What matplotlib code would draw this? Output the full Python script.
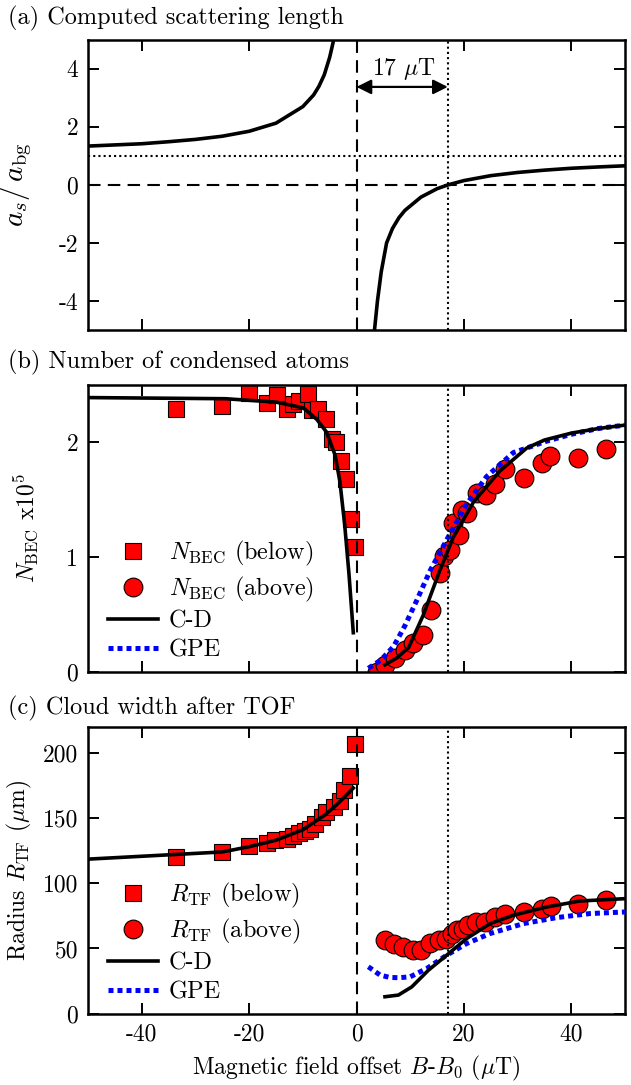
import matplotlib
matplotlib.use("Agg")
import matplotlib.pyplot as plt

plt.rcParams['font.family'] = ['cmr10']
plt.rcParams['mathtext.fontset'] = 'cm'
plt.rcParams['axes.unicode_minus'] = False
plt.rcParams['axes.formatter.use_mathtext'] = False

# ---------------- data ----------------
# (a) scattering length a_s/a_bg
a_below_B = [-50, -45, -40, -35, -30, -25, -20, -15, -10, -8, -7, -6, -5, -4.25]
a_below_v = [1.34, 1.38, 1.42, 1.49, 1.57, 1.68, 1.85, 2.13, 2.70, 3.10, 3.40, 3.80, 4.40, 5.00]
a_above_B = [3.35, 3.9, 4.6, 5.6, 6.7, 7.9, 9.0, 10.5, 12, 15, 17, 20, 25, 30, 35, 40, 45, 50]
a_above_v = [-5.0, -4.0, -3.0, -2.0, -1.5, -1.13, -0.88, -0.65, -0.42, -0.13, 0.0, 0.15, 0.32, 0.43, 0.51, 0.575, 0.62, 0.66]

# (b) number of condensed atoms (x1e5)
nb_below_B = [-33.6, -25.1, -20.0, -16.7, -14.9, -13.0, -11.8, -10.8, -9.0, -8.3, -7.1, -5.6, -4.6, -3.8, -2.8, -2.0, -1.0, -0.3]
nb_below_N = [2.29, 2.32, 2.43, 2.34, 2.41, 2.29, 2.33, 2.36, 2.42, 2.28, 2.29, 2.20, 2.03, 2.00, 1.84, 1.68, 1.33, 1.09]
nb_above_B = [3.75, 5.3, 7.2, 9.0, 10.6, 12.3, 13.8, 15.5, 16.3, 17.4, 18.0, 19.1, 19.6, 20.5, 22.4, 24.2, 25.8, 27.7, 31.1, 34.5, 36.0, 41.3, 46.4]
nb_above_N = [0.00, 0.06, 0.12, 0.19, 0.25, 0.32, 0.54, 0.86, 1.01, 1.06, 1.30, 1.19, 1.41, 1.38, 1.56, 1.54, 1.64, 1.77, 1.69, 1.82, 1.88, 1.86, 1.94]
cd_b_below_B = [-50, -24.4, -14.9, -9.9, -7.4, -5.6, -4.0, -3.1, -2.2, -1.4, -0.6]
cd_b_below_N = [2.39, 2.38, 2.35, 2.30, 2.20, 2.09, 1.89, 1.66, 1.28, 0.85, 0.34]
cd_b_above_B = [5.3, 7.5, 9.7, 12.4, 15.5, 18.0, 21.8, 26.7, 31.7, 35, 40, 45, 50]
cd_b_above_N = [0.06, 0.12, 0.21, 0.49, 0.88, 1.17, 1.48, 1.75, 1.95, 2.02, 2.08, 2.12, 2.15]
gpe_b_B = [2.2, 4.5, 6.9, 9.0, 11.2, 13.7, 16.8, 20.5, 24.2, 29.2, 35.4, 40, 45, 50]
gpe_b_N = [0.03, 0.10, 0.22, 0.40, 0.62, 0.88, 1.15, 1.46, 1.70, 1.91, 2.01, 2.07, 2.12, 2.15]

# (c) cloud width R_TF (um)
rc_below_B = [-33.6, -25.1, -20.0, -16.7, -15.2, -13.0, -11.8, -10.7, -9.6, -8.7, -7.7, -6.5, -5.6, -4.1, -3.1, -2.3, -1.3, -0.3]
rc_below_R = [120.0, 123.9, 128.5, 130.7, 132.8, 134.1, 136.6, 138.4, 140.4, 141.7, 145.6, 150.6, 154.4, 158.3, 163.4, 171.6, 182.3, 206.7]
rc_above_B = [5.3, 7.0, 8.7, 10.5, 12.1, 13.7, 15.4, 16.7, 17.7, 18.7, 19.9, 20.8, 22.3, 23.9, 25.8, 27.7, 31.1, 34.5, 36.2, 41.3, 46.4]
rc_above_R = [56.3, 53.8, 51.2, 48.7, 48.7, 54.3, 56.3, 57.6, 61.4, 64.0, 65.3, 67.8, 70.3, 70.3, 74.2, 76.8, 78.0, 80.6, 82.3, 83.9, 86.9]
cd_c_below_B = [-50, -25, -20, -15, -10, -6, -4, -2.5, -1.3, -0.6]
cd_c_below_R = [118.5, 124, 128, 133, 141, 152, 159, 165, 170, 173]
cd_c_above_B = [5.3, 7.8, 10.3, 13.4, 16.8, 20.5, 24.9, 29.2, 35.4, 41.6, 50]
cd_c_above_R = [13.0, 14.3, 20.6, 33.4, 44.9, 57.6, 69.1, 75.5, 81.8, 86.4, 88.2]
gpe_c_B = [2.2, 4.4, 6.2, 8.0, 10.0, 13.1, 16.8, 20.5, 24.9, 31.1, 37.3, 43.5, 50]
gpe_c_R = [36.0, 29.6, 27.8, 27.6, 28.3, 34.7, 44.9, 53.8, 61.5, 69.1, 73.7, 76.8, 78.0]

xticks = [-40, -20, 0, 20, 40]
shift_B = 17

# ---------------- figure ----------------
fig = plt.figure(figsize=(6.31, 10.85), dpi=100)
L, W = 0.1395, 0.851
axa = fig.add_axes([L, 0.6959, W, 0.2673])
axb = fig.add_axes([L, 0.3809, W, 0.2643])
axc = fig.add_axes([L, 0.0657, W, 0.2645])

FS = 17
red = '#ff0000'
sq_kw = dict(linestyle='none', marker='s', markersize=11, markerfacecolor=red,
             markeredgecolor='black', markeredgewidth=0.8, zorder=2)
ci_kw = dict(linestyle='none', marker='o', markersize=13.5, markerfacecolor=red,
             markeredgecolor='black', markeredgewidth=0.8, zorder=2)
cd_kw = dict(color='black', lw=2.6, zorder=4)
gpe_kw = dict(color='#0000ff', lw=3.6, linestyle=(0, (1, 0.8)), zorder=3)
dash_kw = dict(color='black', lw=1.5, dashes=(6, 3.5), zorder=5)
dot_kw = dict(color='black', lw=1.5, linestyle=(0, (1, 1.5)), zorder=5)

for ax in (axa, axb, axc):
    ax.set_xlim(-50, 50)
    ax.set_xticks(xticks)
    ax.tick_params(direction='in', top=True, right=True, length=8, width=1.4,
                   labelsize=FS, pad=7)
    for s in ax.spines.values():
        s.set_linewidth(1.8)
    ax.axvline(0, **dash_kw)
    ax.axvline(shift_B, **dot_kw)

# (a)
axa.plot(a_below_B, a_below_v, **cd_kw)
axa.plot(a_above_B, a_above_v, **cd_kw)
axa.axhline(0, **dash_kw)
axa.axhline(1, **dot_kw)
axa.set_ylim(-5, 5)
axa.set_yticks([-4, -2, 0, 2, 4])
axa.set_xticklabels([])
axa.annotate('', xy=(0, 3.38), xytext=(shift_B, 3.38),
             arrowprops=dict(arrowstyle='<|-|>', color='black', lw=1.6,
                             mutation_scale=22, shrinkA=0, shrinkB=0))
axa.text(8.8, 4.0, r'17 $\mu$T', ha='center', va='center', fontsize=FS)
axa.set_ylabel(r'$a_s/\,a_{\rm bg}$', fontsize=21)
axa.yaxis.set_label_coords(-0.1, 0.5)

# (b)
axb.plot(nb_below_B, nb_below_N, label=r'$N_{\rm BEC}$ (below)', **sq_kw)
axb.plot(nb_above_B, nb_above_N, label=r'$N_{\rm BEC}$ (above)', **ci_kw)
axb.plot(cd_b_below_B, cd_b_below_N, label='C-D', **cd_kw)
axb.plot(cd_b_above_B, cd_b_above_N, **cd_kw)
axb.plot(gpe_b_B, gpe_b_N, label='GPE', **gpe_kw)
axb.set_ylim(0, 2.5)
axb.set_yticks([0, 1, 2])
axb.set_xticklabels([])
axb.set_ylabel(r'$N_{\rm BEC}$ x10$^5$', fontsize=FS)
axb.yaxis.set_label_coords(-0.09, 0.5)

# (c)
axc.plot(rc_below_B, rc_below_R, label=r'$R_{\rm TF}$ (below)', **sq_kw)
axc.plot(rc_above_B, rc_above_R, label=r'$R_{\rm TF}$ (above)', **ci_kw)
axc.plot(cd_c_below_B, cd_c_below_R, label='C-D', **cd_kw)
axc.plot(cd_c_above_B, cd_c_above_R, **cd_kw)
axc.plot(gpe_c_B, gpe_c_R, label='GPE', **gpe_kw)
axc.set_ylim(0, 220)
axc.set_yticks([0, 50, 100, 150, 200])
axc.set_ylabel(r'Radius $R_{\rm TF}$ ($\mu$m)', fontsize=FS)
axc.yaxis.set_label_coords(-0.1, 0.5)
axc.set_xlabel(r'Magnetic field offset $B$-$B_0$ ($\mu$T)', fontsize=FS, labelpad=6)

for ax in (axb, axc):
    ax.legend(loc='lower left', bbox_to_anchor=(0.037, 0.035), frameon=False,
              fontsize=17.5, handlelength=2.05, handletextpad=0.45,
              labelspacing=0.28, borderpad=0, borderaxespad=0, numpoints=1)

fig.text(0.012, 0.983, '(a) Computed scattering length', fontsize=FS + 0.5, va='center')
fig.text(0.012, 0.6664, '(b) Number of condensed atoms', fontsize=FS + 0.5, va='center')
fig.text(0.012, 0.3475, '(c) Cloud width after TOF', fontsize=FS + 0.5, va='center')

fig.savefig('out.png', dpi=100)
